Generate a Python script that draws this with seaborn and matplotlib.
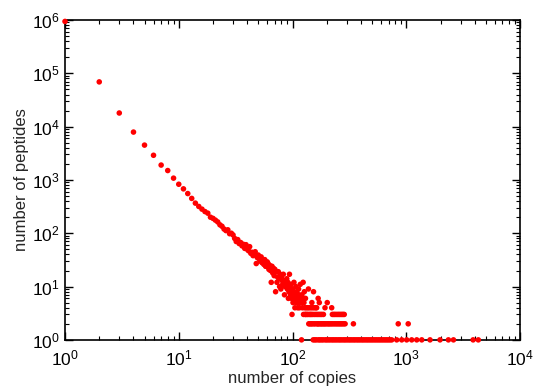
import numpy as np
import pandas as pd
import matplotlib
matplotlib.use("Agg")
import matplotlib.pyplot as plt
import matplotlib.ticker as mticker
import seaborn as sns

# ---- data (copies -> number of peptides) ----
main_copies = list(range(1, 131))
main_peptides = [
    940000, 69000, 18000, 7900, 4500, 2900, 1900, 1500, 1080, 830,
    680, 555, 450, 367, 318, 283, 255, 238, 200, 190,
    176, 163, 144, 135, 120, 112, 116, 98, 100, 93,
    80, 70, 76, 64, 67, 58, 62, 52, 61, 50,
    47, 56, 42, 44, 38, 40, 45, 27, 35, 39,
    33, 30, 36, 28, 31, 26, 32, 24, 24, 29,
    27, 21, 25, 20, 12, 24, 18, 22, 16, 21,
    8, 19, 12, 15, 19, 14, 10, 17, 9, 15,
    13, 11, 17, 12, 7, 10, 13, 11, 14, 9,
    12, 6, 8, 17, 10, 7, 11, 6, 3, 9,
    5, 8, 12, 6, 4, 7, 10, 5, 8, 6,
    4, 5, 9, 7, 4, 6, 11, 5, 5, 1,
    7, 4, 6, 12, 3, 5, 8, 4, 3, 6,
]

extra_copies = [138, 153, 168, 172, 202, 148]
extra_peptides = [9, 8, 6, 5, 5, 5]

four_copies = [132, 136, 140, 145, 150, 155, 160, 163, 193, 221]
three_copies = [131, 134, 137, 141, 144, 147, 151, 156, 161, 166, 171, 176,
                181, 187, 224, 230, 236, 243, 250, 257, 264, 271, 278, 285]
two_copies = [139, 142, 146, 149, 154, 158, 164, 167, 170, 175, 179, 183, 188,
              192, 197, 203, 208, 213, 219, 225, 232, 239, 246, 253, 260, 267,
              274, 282, 290, 343, 850, 1040]
one_copies = [152, 157, 162, 169, 174, 180, 186, 194, 200, 207, 214, 222, 229,
              237, 245, 254, 262, 271, 281, 290, 300, 311, 321, 332, 344, 355,
              368, 380, 393, 407, 420, 435, 450, 465, 481, 497, 514, 532, 550,
              569, 588, 608, 629, 651, 673, 696, 720, 745,
              824, 912, 1008, 1116, 1236, 1368, 1618, 1980, 2347, 2600, 3870, 4300]

x_ticks = [1, 10, 100, 1000, 10000]
y_ticks = [1, 10, 100, 1000, 10000, 100000, 1000000]

copies = (main_copies + extra_copies + four_copies + three_copies
          + two_copies + one_copies)
peptides = (main_peptides + extra_peptides + [4] * len(four_copies)
            + [3] * len(three_copies) + [2] * len(two_copies)
            + [1] * len(one_copies))

df = pd.DataFrame({"copies": copies, "peptides": peptides})

sns.set_theme(style="ticks")
plt.rcParams["font.family"] = ["Liberation Sans", "DejaVu Sans"]
plt.rcParams["mathtext.fontset"] = "custom"
plt.rcParams["mathtext.rm"] = "Liberation Sans"
plt.rcParams["mathtext.it"] = "Liberation Sans"

fig = plt.figure(figsize=(5.35, 3.92), dpi=100)
ax = fig.add_axes([0.1215, 0.133, 0.8505, 0.816])

sns.scatterplot(data=df, x="copies", y="peptides", ax=ax, color="#ff0000",
                s=16, linewidth=0, edgecolor="none", clip_on=False, zorder=3)

ax.set_xscale("log")
ax.set_yscale("log")
ax.set_xlim(1, 1e4)
ax.set_ylim(1, 1e6)

ax.xaxis.set_major_locator(mticker.FixedLocator(x_ticks))
ax.yaxis.set_major_locator(mticker.FixedLocator(y_ticks))
ax.xaxis.set_minor_locator(mticker.LogLocator(base=10, subs=np.arange(2, 10), numticks=20))
ax.yaxis.set_minor_locator(mticker.LogLocator(base=10, subs=np.arange(2, 10), numticks=20))
ax.xaxis.set_minor_formatter(mticker.NullFormatter())
ax.yaxis.set_minor_formatter(mticker.NullFormatter())
fmt = mticker.LogFormatterMathtext(base=10)
ax.xaxis.set_major_formatter(fmt)
ax.yaxis.set_major_formatter(fmt)

ax.tick_params(which="both", direction="in", top=True, right=True,
               colors="black", labelsize=12.5)
ax.tick_params(which="major", length=6, width=1)
ax.tick_params(which="minor", length=3, width=0.8)
ax.tick_params(axis="x", pad=6)
ax.tick_params(axis="y", pad=4)

for sp in ax.spines.values():
    sp.set_visible(True)
    sp.set_color("black")
    sp.set_linewidth(1.2)

ax.set_xlabel("number of copies", fontsize=12, labelpad=2)
ax.set_ylabel("number of peptides", fontsize=12, labelpad=2)

fig.savefig("out.png", dpi=100)
